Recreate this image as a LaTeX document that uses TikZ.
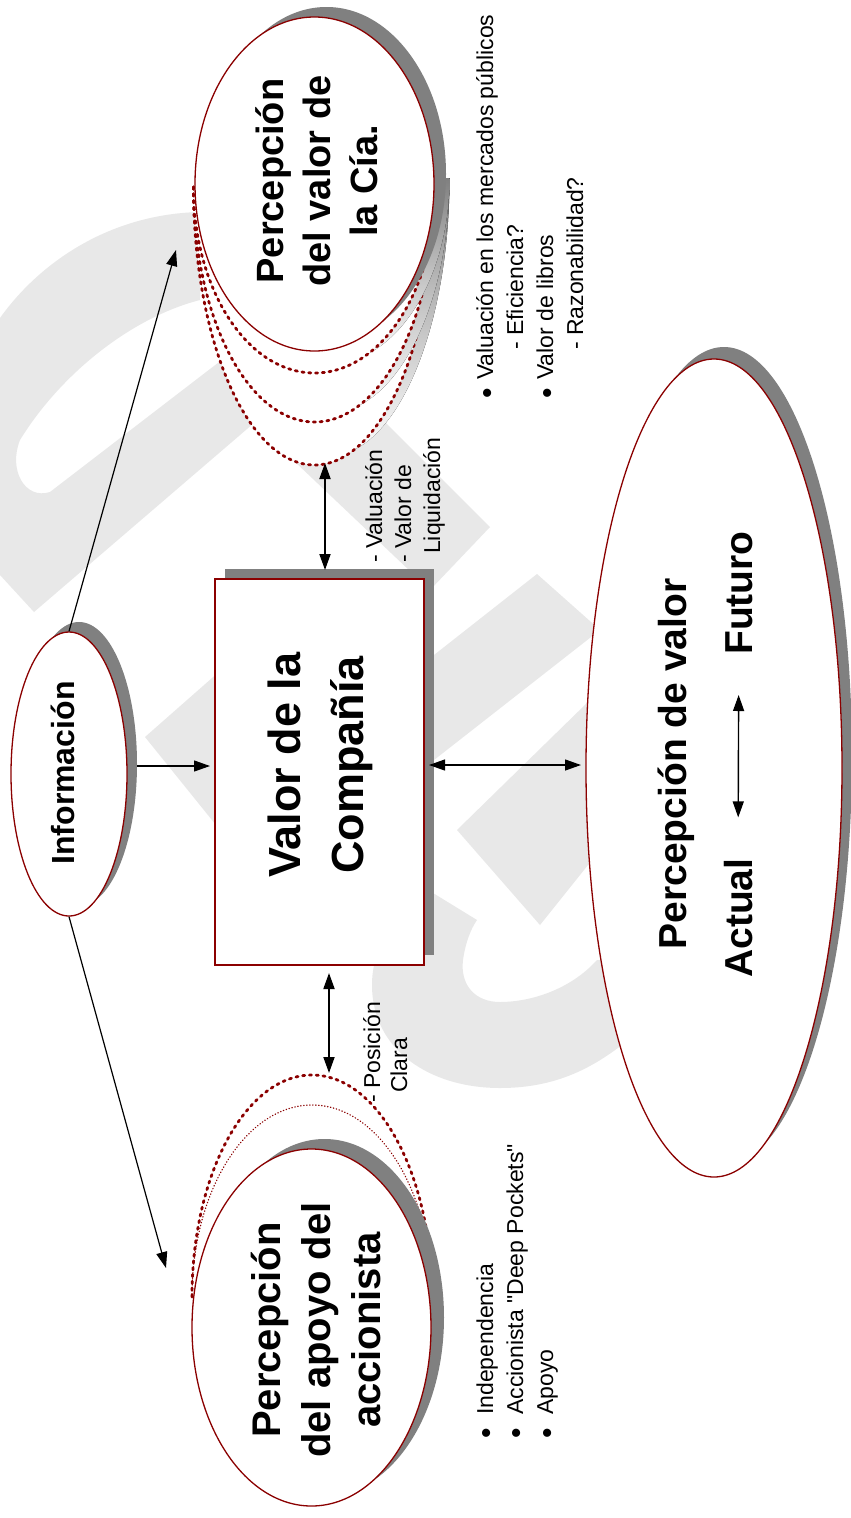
\documentclass[tikz,border=0pt]{standalone}
\usepackage{fontspec}
\setmainfont{Liberation Sans}
\newfontfamily\plainsans{Liberation Sans}
\usetikzlibrary{shapes.geometric,arrows.meta}
\definecolor{rim}{HTML}{8B0000}
\definecolor{shade}{HTML}{808080}
\definecolor{wmgrey}{HTML}{E8E8E8}
\begin{document}
\begin{tikzpicture}[x=1pt,y=-1pt,
  oval/.style={ellipse, draw=rim, line width=1.3pt, fill=white, inner sep=0pt},
  ovalsh/.style={ellipse, fill=shade, inner sep=0pt},
  frame/.style={rectangle, draw=rim, line width=1.3pt, fill=white, inner sep=0pt},
  framesh/.style={rectangle, fill=shade, inner sep=0pt},
  dots/.style={draw=rim, line width=2.8pt, line cap=round, dash pattern=on 2.2pt off 4.6pt},
  finedots/.style={draw=rim, line width=1.3pt, line cap=round, dash pattern=on 0.4pt off 2.6pt},
  emblem/.style={fill=wmgrey},
  lbl/.style={rotate=90, inner sep=0pt},
  heading/.style 2 args={lbl, align=center, font=\bfseries\fontsize{#1}{#2}\selectfont},
  note/.style={lbl, anchor=base west, font=\plainsans\fontsize{23}{30}\selectfont},
  dot/.style={lbl, font=\plainsans\fontsize{30}{30}\selectfont},
  tip/.style={-{Triangle[length=16pt,width=11pt]}},
  link/.style={tip, line width=1.2pt},
  twoway/.style={{Triangle[length=16pt,width=11pt]}-{Triangle[length=16pt,width=11pt]}, line width=1.8pt},
]
\useasboundingbox (0,0) rectangle (851,1518);
\fill[white] (0,0) rectangle (851,1518);

% light background emblem
\fill[emblem] (200,212) .. controls (110,214) and (40,262) .. (0,318) -- (0,575) -- (34,612) -- (254,423)
  -- (430,590) -- (490,527) -- (383,420) -- (279,316) -- (50,492) .. controls (25,500) and (8,470) .. (20,440)
  .. controls (60,375) and (130,318) .. (200,300) -- cycle;
\fill[emblem] (145,737) -- (220,671) -- (220,830) -- cycle;
\fill[emblem] (434,655) -- (537,574) -- (600,630) -- (434,760) -- cycle;
\fill[emblem] (457,830) -- (590,700) -- (600,850) -- (540,925) -- cycle;
\fill[emblem] (433,893) .. controls (390,920) and (372,950) .. (372,985) .. controls (372,1050) and (430,1088) .. (500,1088)
  .. controls (560,1088) and (600,1065) .. (640,1030) -- (620,960) -- (597,960) .. controls (570,990) and (530,1002) .. (500,1002)
  .. controls (475,1002) and (460,985) .. (463,960) .. controls (465,945) and (470,930) .. (477,920) -- cycle;

% market value perception
\node[ovalsh, minimum width=256pt, minimum height=818pt] (valsh) at (724,756) {};
\node[oval, minimum width=256pt, minimum height=818pt] (val) at (714,768) {};

% company value box
\node[framesh, minimum width=209pt, minimum height=386pt] (boxsh) at (329.5,762) {};
\node[frame, minimum width=209pt, minimum height=386pt] (box) at (319.5,772) {};

% information
\node[ovalsh, minimum width=116pt, minimum height=284pt] (infosh) at (79,764) {};
\node[oval, minimum width=116pt, minimum height=284pt] (info) at (69,774) {};

% perceived company value, stacked copies below
\foreach \r in {278,235,186}{
  \fill[shade] (207.5,178) arc[start angle=180, end angle=0, x radius=121, y radius=\r] -- cycle;
  \fill[white] (193.5,187) arc[start angle=180, end angle=0, x radius=121, y radius=\r] -- cycle;
  \draw[dots] (193.5,187) arc[start angle=180, end angle=0, x radius=121, y radius=\r];
}
\node[ovalsh, minimum width=239pt, minimum height=334pt] (ciash) at (326.5,174) {};
\node[oval, minimum width=239pt, minimum height=334pt] (cia) at (314.5,184) {};

% perceived shareholder support, stacked copies above
\draw[dots] (192,1297) arc[start angle=180, end angle=360, x radius=120, y radius=222];
\draw[finedots] (192,1297) arc[start angle=180, end angle=360, x radius=120, y radius=192];
\node[ovalsh, minimum width=239pt, minimum height=357pt] (apsh) at (324.5,1317.5) {};
\node[oval, minimum width=239pt, minimum height=357pt] (ap) at (311.5,1327.5) {};

% headings
\node[heading={32}{38}] (infoT) at (63,773) {Información};
\node[heading={45}{63}] (boxT) at (320,765) {Valor de la\\Compañía};
\node[heading={38}{47}] (ciaT) at (317,181) {Percepción\\del valor de\\la Cía.};
\node[heading={40}{50}] (apT) at (316,1330) {Percepción\\del apoyo del\\accionista};
\node[lbl, anchor=base, font=\bfseries\fontsize{39}{47}\selectfont] (pvT) at (686,764) {Percepción de valor};
\node[lbl, anchor=base west, font=\bfseries\fontsize{39}{47}\selectfont] (act) at (752,978) {Actual};
\node[lbl, anchor=base west, font=\bfseries\fontsize{39}{47}\selectfont] (fut) at (752,655) {Futuro};
\draw[twoway, line width=1.4pt, shorten <=41pt, shorten >=40pt] (act.east) -- (fut.west);

% notes
\node[note] (n1) at (382,563) {- Valuación};
\node[note] (n2) at (411,563) {- Valor de};
\node[note] (n3) at (440,554) {Liquidación};
\node[note] (n4) at (380,1103) {- Posición};
\node[note] (n5) at (407,1093) {Clara};
\node[dot] (b1) at (490,393) {•};
\node[note] (m1) at (493,380) {Valuación en los mercados públicos};
\node[note] (m2) at (523,350) {- Eficiencia?};
\node[dot] (b2) at (550,393) {•};
\node[note] (m3) at (553,380) {Valor de libros};
\node[note] (m4) at (583,350) {- Razonabilidad?};
\node[dot] (b3) at (489,1433) {•};
\node[note] (s1) at (493,1415) {Independencia};
\node[dot] (b4) at (519,1433) {•};
\node[note] (s2) at (523,1415) {Accionista "Deep Pockets"};
\node[dot] (b5) at (550,1433) {•};
\node[note] (s3) at (553,1415) {Apoyo};

% connectors
\coordinate (ciaIn) at (176,250);
\coordinate (apIn) at (166,1268);
\coordinate (boxIn) at (210,766);
\coordinate (upA) at (325,570);
\coordinate (upB) at (325,463);
\coordinate (dnA) at (329,973);
\coordinate (dnB) at (329,1073);
\coordinate (rtA) at (429,765);
\coordinate (rtB) at (581,765);
\draw[link] (info.north) -- (ciaIn);
\draw[link] (info.south) -- (apIn);
\draw[link] (infosh.east |- boxIn) -- (boxIn);
\draw[twoway] (upA) -- (upB);
\draw[twoway] (dnA) -- (dnB);
\draw[twoway, line width=1.2pt] (rtA) -- (rtB);
\end{tikzpicture}
\end{document}
